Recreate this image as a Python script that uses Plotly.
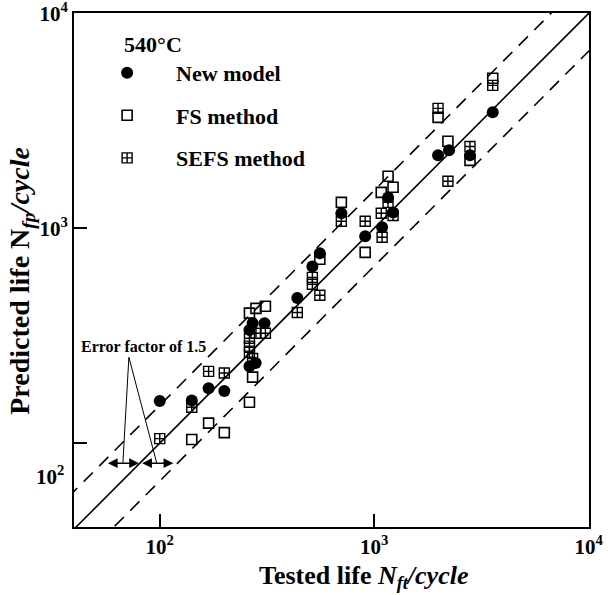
import numpy as np
import plotly.graph_objects as go

# ---------------- data ----------------
new_x = [100, 141, 169, 200, 271, 262, 308, 280, 262, 438, 515, 558, 703, 908, 1161, 1225, 1089, 1986, 2234, 2798, 3573]
new_y = [157, 158, 180, 175, 362, 336, 362, 236, 228, 474, 665, 765, 1175, 918, 1393, 1186, 1011, 2188, 2307, 2188, 3467]

fs_x = [141, 169, 200, 262, 271, 262, 281, 311, 558, 703, 908, 1079, 1161, 1225, 1986, 2208, 2798, 3573]
fs_y = [104, 124, 112, 155, 203, 403, 424, 434, 718, 1321, 773, 1469, 1746, 1552, 3283, 2541, 2070, 4989]

sefs_x = [100, 141, 169, 200, 281, 311, 262, 262, 262, 271, 438, 558, 515, 515, 703, 908, 1079, 1161, 1225, 1089, 1986, 2208, 2798, 3573]
sefs_y = [105, 147, 216, 212, 325, 325, 308, 283, 265, 248, 406, 488, 591, 549, 1079, 1079, 1175, 1321, 1148, 908, 3614, 1656, 2404, 4627]

x_range_log = [1.6, 4.002]
y_range_log = [1.61, 4.002]
error_factor = 1.5
tick_vals = [100, 1000, 10000]
x_tick_text = ["10<sup>2</sup>", "10<sup>3</sup>", "10<sup>4</sup>"]
y_tick_text = ["", "10<sup>3</sup>", "10<sup>4</sup>"]
y_low_label = "10<sup>2</sup>"

FONT = "Liberation Serif"

fig = go.Figure()

# diagonal reference lines
line_x = [10 ** 1.5, 10 ** 4.1]
fig.add_trace(go.Scatter(x=line_x, y=line_x, mode="lines",
                         line=dict(color="black", width=1.6),
                         showlegend=False, hoverinfo="skip"))
fig.add_trace(go.Scatter(x=line_x, y=[v * error_factor for v in line_x], mode="lines",
                         line=dict(color="black", width=1.6, dash="13px,9px"),
                         showlegend=False, hoverinfo="skip"))
fig.add_trace(go.Scatter(x=line_x, y=[v / error_factor for v in line_x], mode="lines",
                         line=dict(color="black", width=1.6, dash="13px,9px"),
                         showlegend=False, hoverinfo="skip"))

# data series
fig.add_trace(go.Scatter(x=fs_x, y=fs_y, mode="markers", name="<b>FS method</b>",
                         legendgroup="b", legendrank=2,
                         marker=dict(symbol="square-open", size=10, color="black",
                                     line=dict(width=1.6, color="black"))))
fig.add_trace(go.Scatter(x=sefs_x, y=sefs_y, mode="markers", name="<b>SEFS method</b>",
                         legendgroup="c", legendrank=3,
                         marker=dict(symbol="square-cross-open", size=10, color="black",
                                     line=dict(width=1.4, color="black"))))
fig.add_trace(go.Scatter(x=new_x, y=new_y, mode="markers", name="<b>New model</b>",
                         legendgroup="a", legendrank=1,
                         marker=dict(symbol="circle", size=12, color="black")))

# error-factor annotation
arrow_y = 1.907
ly = np.log10(error_factor)
pointer_top = (10 ** 1.856, 10 ** 2.40)
fig.add_trace(go.Scatter(x=[10 ** 1.828, pointer_top[0], 10 ** 1.986],
                         y=[10 ** arrow_y, pointer_top[1], 10 ** arrow_y],
                         mode="lines", line=dict(color="black", width=1),
                         showlegend=False, hoverinfo="skip"))

annotations = [
    dict(x=arrow_y - 0.004, y=arrow_y, ax=arrow_y - ly + 0.02, ay=arrow_y,
         xref="x", yref="y", axref="x", ayref="y", text="", showarrow=True,
         arrowhead=2, startarrowhead=2, arrowside="end+start", arrowsize=1.3,
         startarrowsize=1.3, arrowwidth=1.5, arrowcolor="black"),
    dict(x=arrow_y + ly - 0.02, y=arrow_y, ax=arrow_y + 0.004, ay=arrow_y,
         xref="x", yref="y", axref="x", ayref="y", text="", showarrow=True,
         arrowhead=2, startarrowhead=2, arrowside="end+start", arrowsize=1.3,
         startarrowsize=1.3, arrowwidth=1.5, arrowcolor="black"),
    dict(x=1.926, y=2.451, xref="x", yref="y", text="<b>Error factor of 1.5</b>",
         showarrow=False, font=dict(family=FONT, size=16, color="black")),
    # axis titles
    dict(x=0.563, y=-0.097, xref="paper", yref="paper", showarrow=False,
         xanchor="center", yanchor="middle",
         text="<b>Tested life <i>N<sub>ft</sub>/cycle</i></b>",
         font=dict(family=FONT, size=26, color="black")),
    dict(x=-0.101, y=0.479, xref="paper", yref="paper", showarrow=False, textangle=-90,
         xanchor="center", yanchor="middle",
         text="<b>Predicted life N<i><sub>fp</sub>/cycle</i></b>",
         font=dict(family=FONT, size=28, color="black")),
    # lower y tick label (drawn below its tick, as in the original)
    dict(x=-0.016, y=0.101, xref="paper", yref="paper", showarrow=False,
         xanchor="right", yanchor="middle", text=y_low_label,
         font=dict(family=FONT, size=21, color="black", weight="bold")),
]

axis_common = dict(
    type="log", tickvals=tick_vals,
    ticks="inside", ticklen=13, tickwidth=1.6, tickcolor="black",
    showline=True, linecolor="black", linewidth=2, mirror=True,
    showgrid=False, zeroline=False, automargin=False, ticklabeloverflow="allow",
    tickfont=dict(family=FONT, size=21, color="black", weight="bold"),
)

fig.update_layout(
    width=608, height=595, autosize=False,
    margin=dict(l=74, r=19, t=13, b=68),
    paper_bgcolor="white", plot_bgcolor="white",
    font=dict(family=FONT, color="black"),
    xaxis=dict(axis_common, range=x_range_log, ticktext=x_tick_text),
    yaxis=dict(axis_common, range=y_range_log, ticktext=y_tick_text),
    legend=dict(x=0.008, y=0.98, xanchor="left", yanchor="top",
                bgcolor="rgba(0,0,0,0)", borderwidth=0,
                font=dict(family=FONT, size=22, color="black"),
                title=dict(text="\u2003\u2003<b>540°C</b>", font=dict(family=FONT, size=22)),
                traceorder="grouped", tracegroupgap=11, itemwidth=88),
    annotations=annotations,
    showlegend=True,
)

fig.write_html("out.html", post_script="document.body.style.margin='0';",
               config={"displayModeBar": False})
